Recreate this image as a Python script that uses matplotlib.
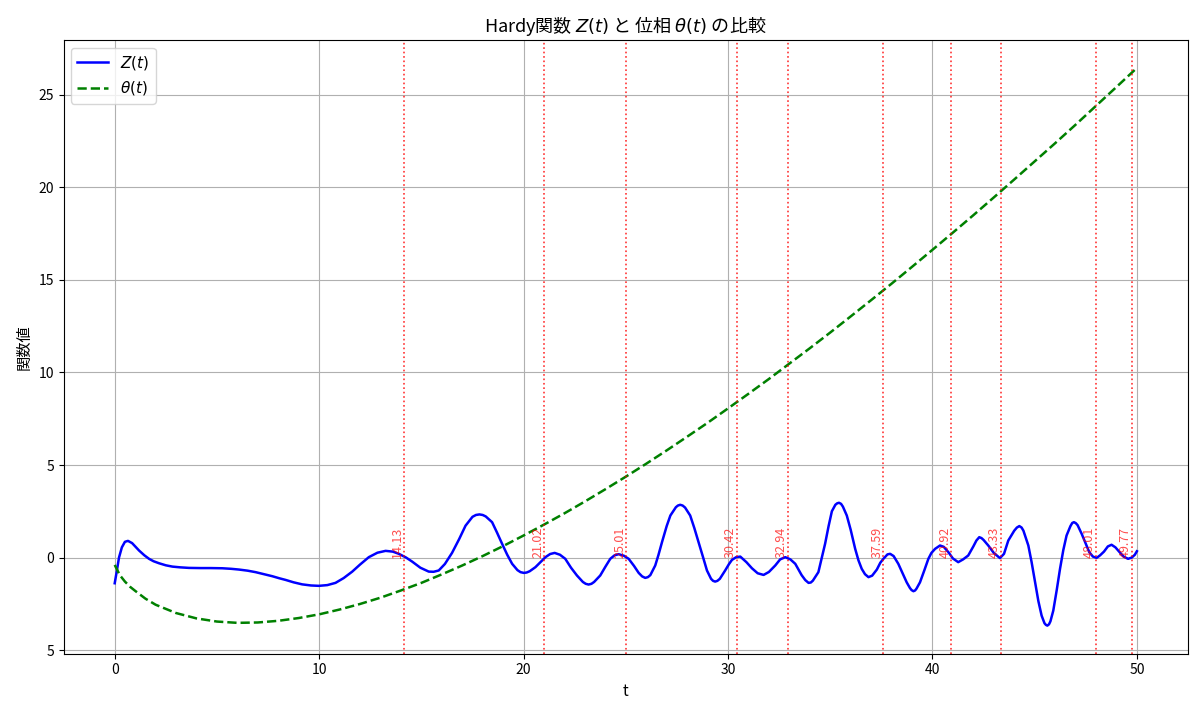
import matplotlib
matplotlib.use("Agg")
import matplotlib.pyplot as plt
from matplotlib.ticker import FuncFormatter

plt.rcParams["font.family"] = ["Noto Sans CJK JP", "DejaVu Sans"]

# Z(t)
z_t = [
    0.00, 0.10, 0.21, 0.35, 0.50, 0.65, 0.85, 1.00, 1.19, 1.45, 1.68, 1.90,
    2.17, 2.50, 2.82, 3.20, 3.63, 4.20, 4.70, 5.26, 5.70, 6.08, 6.50, 6.89,
    7.30, 7.71, 8.05, 8.36, 8.75, 9.17, 9.60, 9.99, 10.40, 10.80, 11.20, 11.62,
    12.00, 12.43, 12.85, 13.25, 13.60, 13.90, 14.25, 14.55, 14.95, 15.36, 15.60, 15.85,
    16.15, 16.50, 16.85, 17.16, 17.50, 17.67, 17.84, 18.00, 18.15, 18.46, 18.70, 18.95,
    19.20, 19.44, 19.70, 19.85, 20.01, 20.15, 20.30, 20.58, 20.85, 21.07, 21.30, 21.52,
    21.78, 22.04, 22.32, 22.61, 22.90, 23.04, 23.18, 23.32, 23.45, 23.75, 24.00, 24.24,
    24.45, 24.65, 24.90, 25.14, 25.40, 25.63, 25.80, 25.95, 26.08, 26.20, 26.44, 26.60,
    26.77, 27.00, 27.18, 27.45, 27.55, 27.66, 27.78, 27.90, 28.15, 28.35, 28.56, 28.77,
    28.97, 29.17, 29.27, 29.37, 29.48, 29.60, 29.86, 30.05, 30.19, 30.40, 30.60, 30.90,
    31.17, 31.45, 31.74, 32.00, 32.31, 32.55, 32.80, 33.05, 33.29, 33.60, 33.78, 33.94,
    34.05, 34.15, 34.42, 34.60, 34.75, 34.92, 35.08, 35.25, 35.34, 35.43, 35.53, 35.62,
    35.81, 36.00, 36.22, 36.38, 36.54, 36.70, 36.87, 37.05, 37.28, 37.45, 37.60, 37.80,
    37.93, 38.10, 38.33, 38.55, 38.74, 38.90, 38.98, 39.07, 39.15, 39.22, 39.39, 39.60,
    39.80, 39.95, 40.13, 40.37, 40.55, 40.78, 41.00, 41.26, 41.50, 41.75, 42.00, 42.15,
    42.29, 42.40, 42.50, 42.73, 43.00, 43.30, 43.50, 43.71, 44.00, 44.13, 44.25, 44.36,
    44.45, 44.69, 44.85, 45.02, 45.18, 45.34, 45.48, 45.55, 45.62, 45.70, 45.77, 45.91,
    46.08, 46.24, 46.40, 46.56, 46.75, 46.84, 46.92, 47.01, 47.10, 47.30, 47.50, 47.67,
    47.85, 48.03, 48.20, 48.39, 48.58, 48.76, 48.95, 49.13, 49.35, 49.57, 49.75, 49.90,
    50.00,
]
z_vals = [
    -1.39, -0.75, 0.00, 0.55, 0.85, 0.90, 0.78, 0.60, 0.38, 0.12, -0.07, -0.20,
    -0.31, -0.42, -0.49, -0.53, -0.56, -0.57, -0.57, -0.58, -0.61, -0.65, -0.71, -0.79,
    -0.90, -1.01, -1.12, -1.21, -1.34, -1.45, -1.51, -1.53, -1.49, -1.37, -1.11, -0.76,
    -0.38, 0.02, 0.26, 0.36, 0.32, 0.20, 0.00, -0.22, -0.55, -0.76, -0.77, -0.70,
    -0.35, 0.25, 1.00, 1.72, 2.20, 2.30, 2.33, 2.30, 2.22, 1.91, 1.35, 0.74,
    0.15, -0.34, -0.68, -0.79, -0.83, -0.81, -0.74, -0.52, -0.22, 0.02, 0.19, 0.25,
    0.15, -0.07, -0.55, -0.97, -1.32, -1.42, -1.46, -1.42, -1.32, -0.97, -0.50, -0.07,
    0.12, 0.18, 0.10, -0.07, -0.45, -0.83, -1.02, -1.10, -1.06, -0.95, -0.43, 0.15,
    0.83, 1.70, 2.27, 2.72, 2.81, 2.85, 2.81, 2.70, 2.27, 1.60, 0.83, 0.05,
    -0.70, -1.15, -1.26, -1.30, -1.26, -1.15, -0.70, -0.35, -0.13, 0.02, 0.05, -0.25,
    -0.58, -0.85, -0.94, -0.78, -0.43, -0.10, 0.02, -0.10, -0.34, -0.95, -1.22, -1.37,
    -1.35, -1.25, -0.79, 0.05, 0.75, 1.70, 2.50, 2.85, 2.93, 2.96, 2.90, 2.75,
    2.27, 1.50, 0.47, -0.15, -0.61, -0.90, -1.06, -0.98, -0.65, -0.28, -0.07, 0.17,
    0.20, 0.08, -0.34, -0.88, -1.34, -1.65, -1.76, -1.82, -1.78, -1.68, -1.34, -0.70,
    -0.07, 0.25, 0.47, 0.65, 0.58, 0.29, -0.05, -0.25, -0.10, 0.11, 0.60, 0.92,
    1.10, 1.05, 0.95, 0.65, 0.25, -0.03, 0.20, 0.92, 1.45, 1.62, 1.70, 1.62,
    1.45, 0.65, -0.25, -1.34, -2.35, -3.14, -3.55, -3.64, -3.68, -3.61, -3.45, -2.87,
    -1.75, -0.61, 0.40, 1.19, 1.70, 1.87, 1.91, 1.86, 1.75, 1.28, 0.75, 0.29,
    0.05, -0.02, 0.12, 0.32, 0.60, 0.69, 0.55, 0.32, 0.05, -0.07, 0.00, 0.15,
    0.34,
]

# theta(t)
theta_t = [
    0.0, 0.25, 0.5, 0.75, 1, 1.5, 2, 3, 4, 5, 6, 7, 8, 9, 10, 11, 12, 13, 14, 15,
    16, 17, 18, 19, 20, 21, 22, 23, 24, 25, 26, 27, 28, 29, 30, 31, 32, 33, 34, 35,
    36, 37, 38, 39, 40, 41, 42, 43, 44, 45, 46, 47, 48, 49, 50,
]
theta_vals = [
    -0.40, -0.95, -1.30, -1.58, -1.80, -2.22, -2.55, -3.00, -3.29, -3.46, -3.53, -3.51,
    -3.42, -3.27, -3.07, -2.81, -2.51, -2.17, -1.78, -1.37, -0.91, -0.43, 0.08, 0.62,
    1.19, 1.78, 2.39, 3.03, 3.69, 4.37, 5.07, 5.79, 6.53, 7.28, 8.06, 8.85,
    9.65, 10.48, 11.31, 12.16, 13.03, 13.91, 14.80, 15.71, 16.63, 17.56, 18.50, 19.46,
    20.43, 21.41, 22.39, 23.39, 24.41, 25.43, 26.46,
]

# zeros marked in the chart
zeros = [14.13, 21.02, 25.01, 30.42, 32.94, 37.59, 40.92, 43.33, 48.01, 49.77]

fig, ax = plt.subplots(figsize=(12, 7.15), dpi=100)
fig.subplots_adjust(left=0.053, right=0.99, top=0.944, bottom=0.086)

ax.plot(z_t, z_vals, color="blue", linewidth=1.8, label=r"$Z(t)$")
ax.plot(theta_t, theta_vals, color="green", linestyle="--", linewidth=1.8, label=r"$\theta(t)$")

for z0 in zeros:
    ax.axvline(z0, color="red", linestyle=":", linewidth=1.2, alpha=0.8)
    ax.text(z0, 0, f"{z0:.2f}", rotation=90, color="red", alpha=0.7,
            fontsize=9, ha="right", va="bottom")

ax.set_title(r"Hardy関数 $Z(t)$ と 位相 $\theta(t)$ の比較", fontsize=13)
ax.set_xlabel("t", fontsize=11)
ax.set_ylabel("関数値", fontsize=11)
ax.set_yticks([-5, 0, 5, 10, 15, 20, 25])
# the reference font had no minus glyph, so the -5 label shows as "5"
ax.yaxis.set_major_formatter(FuncFormatter(lambda v, _: f"{abs(v):g}"))
ax.grid(True)
ax.legend(loc="upper left", fontsize=11)

plt.savefig("out.png", dpi=100)
plt.close()
